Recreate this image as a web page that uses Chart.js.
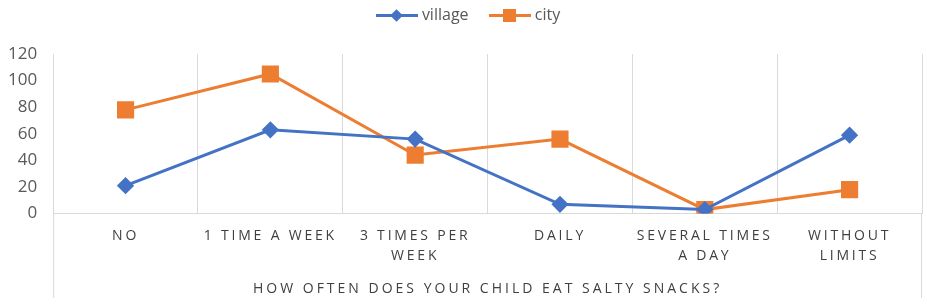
<!DOCTYPE html>
<html>
<head>
<meta charset="utf-8">
<script src="https://cdn.jsdelivr.net/npm/chart.js@4"></script>
<style>
  body { margin: 0; background: #fff; }
  #wrap { position: relative; width: 927px; height: 304px; }
  #legend { position: absolute; top: 1px; left: 9px; width: 918px; text-align: center;
    font: 16px "Open Sans", sans-serif; color: #595959; }
  .item { display: inline-block; margin: 0 8px; vertical-align: middle; }
  .swatch { display: inline-block; position: relative; width: 42px; height: 14px; vertical-align: middle; }
  .swatch .ln { position: absolute; left: 0; right: 0; top: 6px; height: 3px; }
  .swatch .mk { position: absolute; left: 50%; top: 50%; }
</style>
</head>
<body>
<div id="wrap">
  <div id="legend">
    <span class="item"><span class="swatch"><span class="ln" style="background:#4472C4"></span><span class="mk" style="width:9px;height:9px;margin:-4.5px 0 0 -4.5px;background:#4472C4;transform:rotate(45deg)"></span></span> village</span>
    <span class="item"><span class="swatch"><span class="ln" style="background:#ED7D31"></span><span class="mk" style="width:13px;height:13px;margin:-6.5px 0 0 -6.5px;background:#ED7D31"></span></span> city</span>
  </div>
  <canvas id="chart1" width="927" height="304"></canvas>
</div>
<script>
// Dados do gráfico
const categories = ['NO', '1 TIME A WEEK', ['3 TIMES PER', 'WEEK'], 'DAILY', ['SEVERAL TIMES', 'A DAY'], ['WITHOUT', 'LIMITS']];
const village = [21, 63, 56, 7, 3, 59];
const city = [78, 105, 44, 56, 3, 18];
const yTicks = [0, 20, 40, 60, 80, 100, 120];
const axisTitle = 'HOW OFTEN DOES YOUR CHILD EAT SALTY SNACKS?';

// Espaçamento das letras no eixo X + linhas das bordas
const eixoPlugin = {
    id: 'eixo',
    afterLayout(chart) {
        const sx = chart.scales.x;
        if (sx._patched) return;
        const spacing = { drawLabels: '2.8px', drawTitle: '3px' };
        Object.keys(spacing).forEach(name => {
            const orig = sx[name];
            sx[name] = function (...args) {
                const ctx = this.ctx;
                ctx.save();
                ctx.letterSpacing = spacing[name];
                orig.apply(this, args);
                ctx.restore();
            };
        });
        sx._patched = true;
    },
    afterDraw(chart) {
        const ctx = chart.ctx;
        const a = chart.chartArea;
        ctx.save();
        ctx.strokeStyle = '#d9d9d9';
        ctx.lineWidth = 1;
        ctx.beginPath();
        ctx.moveTo(a.left + 0.5, a.bottom);
        ctx.lineTo(a.left + 0.5, chart.height - 6);
        ctx.moveTo(a.right - 0.5, a.bottom);
        ctx.lineTo(a.right - 0.5, chart.height - 6);
        ctx.stroke();
        ctx.restore();
    }
};

new Chart(document.getElementById('chart1').getContext('2d'), {
    type: 'line',
    data: {
        labels: categories,
        datasets: [{
            label: 'village',
            data: village,
            borderColor: '#4472C4',
            backgroundColor: '#4472C4',
            borderWidth: 3,
            pointStyle: 'rectRot',
            pointRadius: 6.5,
            pointHoverRadius: 6.5
        }, {
            label: 'city',
            data: city,
            borderColor: '#ED7D31',
            backgroundColor: '#ED7D31',
            borderWidth: 3,
            pointStyle: 'rect',
            pointRadius: 10,
            pointHoverRadius: 10
        }]
    },
    options: {
        responsive: false,
        animation: false,
        layout: { autoPadding: false, padding: { top: 54, right: 5, left: 0, bottom: 4 } },
        plugins: {
            legend: { display: false },
            tooltip: { enabled: false }
        },
        scales: {
            x: {
                offset: true,
                grid: { offset: true, color: '#d9d9d9', drawTicks: false },
                border: { display: true, color: '#d9d9d9' },
                ticks: {
                    autoSkip: false,
                    maxRotation: 0,
                    padding: 12,
                    color: '#404040',
                    font: { family: 'Open Sans', size: 14, lineHeight: 1.45 }
                },
                title: {
                    display: true,
                    text: axisTitle,
                    color: '#404040',
                    padding: { top: 2, bottom: 3 },
                    font: { family: 'Open Sans', size: 14 }
                }
            },
            y: {
                min: 0,
                max: 120,
                afterBuildTicks(scale) {
                    scale.ticks = yTicks.map(v => ({ value: v }));
                },
                grid: { display: false },
                border: { display: false },
                ticks: {
                    padding: 8,
                    color: '#595959',
                    font: { family: 'Open Sans', size: 17 }
                }
            }
        }
    },
    plugins: [eixoPlugin]
});
</script>
</body>
</html>
